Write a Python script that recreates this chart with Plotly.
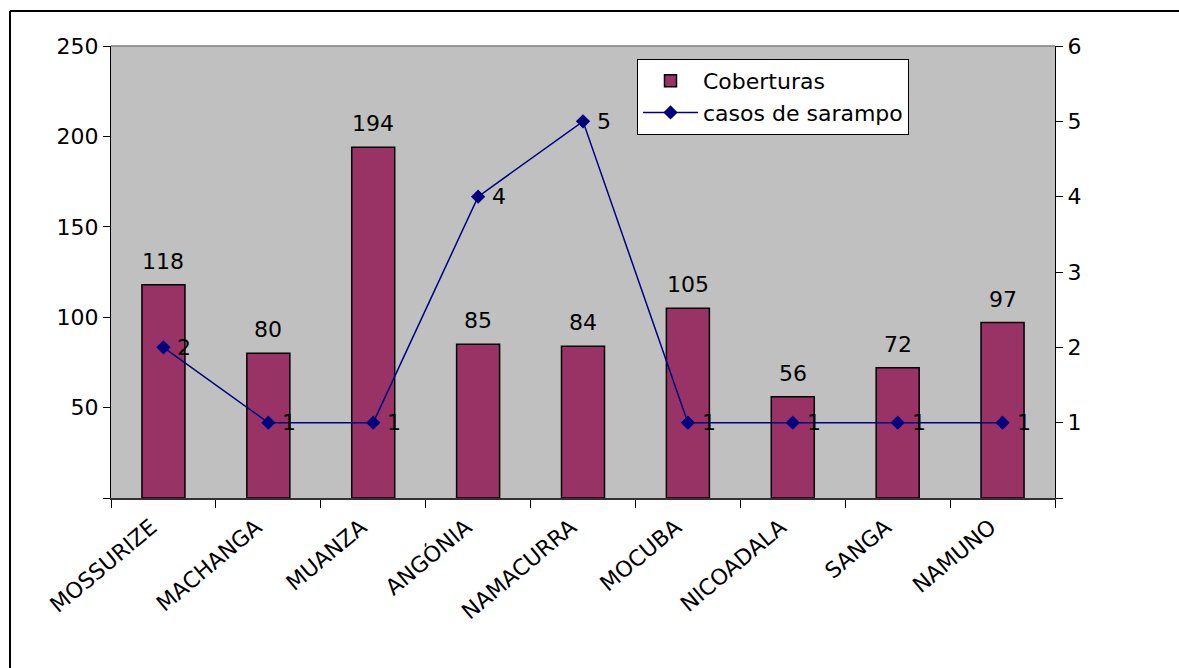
import plotly.graph_objects as go

categories = ["MOSSURIZE", "MACHANGA", "MUANZA", "ANGÓNIA", "NAMACURRA",
              "MOCUBA", "NICOADALA", "SANGA", "NAMUNO"]
coberturas = [118, 80, 194, 85, 84, 105, 56, 72, 97]
casos_sarampo = [2, 1, 1, 4, 5, 1, 1, 1, 1]
left_ticks = [0, 50, 100, 150, 200, 250]
left_labels = ["", "50", "100", "150", "200", "250"]
right_ticks = [0, 1, 2, 3, 4, 5, 6]
right_labels = ["", "1", "2", "3", "4", "5", "6"]

FONT = "DejaVu Sans"
FS = 22

fig = go.Figure()
fig.add_trace(go.Bar(
    x=categories, y=coberturas, name="Coberturas",
    marker=dict(color="#993366", line=dict(color="black", width=1.5)),
    width=0.41,
))
fig.add_trace(go.Scatter(
    x=categories, y=casos_sarampo, name="casos de sarampo", yaxis="y2",
    mode="lines+markers",
    line=dict(color="#000080", width=1.5),
    marker=dict(symbol="diamond", size=11, color="#000080"),
    cliponaxis=False,
))

annotations = []
for c, v in zip(categories, coberturas):
    annotations.append(dict(x=c, y=v, xref="x", yref="y", text=str(v),
                            showarrow=False, xanchor="center", yanchor="bottom",
                            yshift=9, font=dict(family=FONT, size=FS, color="black")))
for c, v in zip(categories, casos_sarampo):
    annotations.append(dict(x=c, y=v, xref="x", yref="y2", text=str(v),
                            showarrow=False, xanchor="left", yanchor="middle",
                            xshift=12, font=dict(family=FONT, size=FS, color="black")))

W, H = 1179, 668
L, R, T, B = 111, 1055, 46, 498
def px(x):
    return (x - L) / (R - L)
def py(y):
    return (B - y) / (B - T)

fig.update_layout(
    width=W, height=H,
    margin=dict(l=L, r=W - R, t=T, b=H - B),
    paper_bgcolor="white", plot_bgcolor="#C0C0C0",
    font=dict(family=FONT, size=FS, color="black"),
    showlegend=True,
    annotations=annotations,
    legend=dict(x=px(637), y=py(59), xanchor="left", yanchor="top",
                bgcolor="white", bordercolor="black", borderwidth=1,
                font=dict(family=FONT, size=FS), tracegroupgap=2,
                itemwidth=55),
    xaxis=dict(type="category", range=[-0.5, 8.5], tickangle=-40,
               ticks="outside", ticklen=8, tickcolor="black",
               tickson="boundaries", showline=True, linecolor="#333333",
               linewidth=1.5, showgrid=False, zeroline=False,
               ticklabelshift=-12, ticklabelstandoff=6,
               tickfont=dict(family=FONT, size=FS)),
    yaxis=dict(range=[0, 250], tickvals=left_ticks, ticktext=left_labels,
               ticks="outside", ticklen=7, tickcolor="black",
               showline=True, linecolor="black", linewidth=1,
               showgrid=False, zeroline=False,
               tickfont=dict(family=FONT, size=FS)),
    yaxis2=dict(range=[0, 6], tickvals=right_ticks, ticktext=right_labels,
                overlaying="y", side="right",
                ticks="outside", ticklen=7, tickcolor="black",
                showline=True, linecolor="black", linewidth=1,
                showgrid=False, zeroline=False,
                tickfont=dict(family=FONT, size=FS)),
    shapes=[
        dict(type="line", xref="paper", yref="paper", x0=0, x1=1, y0=1, y1=1,
             line=dict(color="#808080", width=1.5)),
        dict(type="line", xref="paper", yref="paper",
             x0=px(10), x1=px(1200), y0=py(11), y1=py(11),
             line=dict(color="black", width=2)),
        dict(type="line", xref="paper", yref="paper",
             x0=px(10), x1=px(10), y0=py(11), y1=py(700),
             line=dict(color="black", width=2)),
    ],
)

fig.write_html("out.html", config={"displayModeBar": False},
               post_script="document.body.style.margin='0';document.body.style.overflow='hidden';")
